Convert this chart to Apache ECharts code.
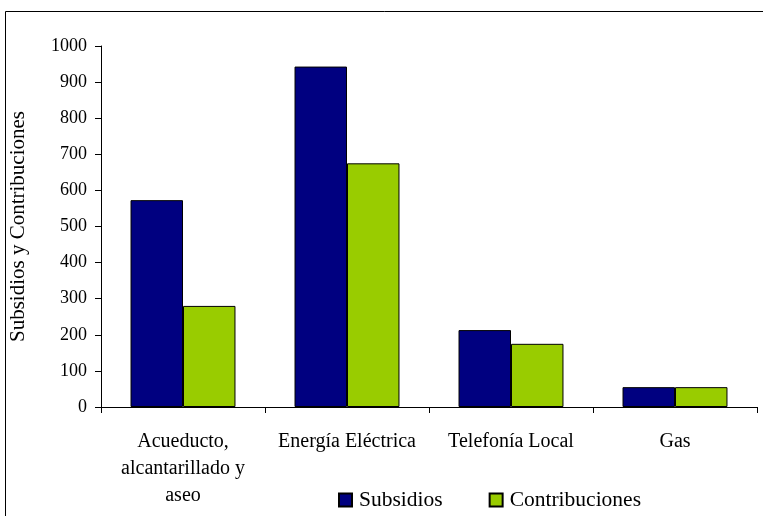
<!DOCTYPE html>
<html>
<head>
<meta charset="utf-8">
<script src="https://cdn.jsdelivr.net/npm/echarts@6/dist/echarts.min.js"></script>
<style>
html,body{margin:0;padding:0;background:#fff;}
#chart{width:763px;height:516px;}
</style>
</head>
<body>
<div id="chart"></div>
<script>
var categories = ['Acueducto,\nalcantarillado y\naseo', 'Energía Eléctrica', 'Telefonía Local', 'Gas'];
var subsidios = [573, 943, 213, 55];
var contribuciones = [280, 675, 175, 55];
var yTicks = [0, 100, 200, 300, 400, 500, 600, 700, 800, 900, 1000];

var FONT = '"Liberation Serif", "Times New Roman", serif';
var chart = echarts.init(document.getElementById('chart'));
chart.setOption({
  backgroundColor: '#fff',
  animation: false,
  graphic: [{
    type: 'rect',
    shape: {x: 5.5, y: 11.5, width: 800, height: 600},
    style: {fill: 'none', stroke: '#000', lineWidth: 1},
    silent: true, z: -1
  }],
  grid: {left: 99, right: 6, top: 46, bottom: 109, containLabel: false},
  legend: {
    data: ['Subsidios', 'Contribuciones'],
    left: 333, top: 484,
    icon: 'rect', itemWidth: 13, itemHeight: 13, itemGap: 46,
    textStyle: {fontFamily: FONT, fontSize: 21.5, color: '#000', padding: [0, 0, 0, 2]}
  },
  xAxis: {
    type: 'category',
    data: categories,
    axisLine: {lineStyle: {color: '#000', width: 1}},
    axisTick: {show: true, length: 6, lineStyle: {color: '#000'}},
    axisLabel: {fontFamily: FONT, fontSize: 20, color: '#000', lineHeight: 27, margin: 21, interval: 0}
  },
  yAxis: {
    type: 'value',
    min: yTicks[0], max: yTicks[yTicks.length - 1], interval: 100,
    name: 'Subsidios y Contribuciones',
    nameLocation: 'middle', nameGap: 72, nameRotate: 90,
    nameTextStyle: {fontFamily: FONT, fontSize: 21, color: '#000'},
    axisLine: {show: true, lineStyle: {color: '#000', width: 1}},
    axisTick: {show: true, length: 6, lineStyle: {color: '#000'}},
    splitLine: {show: false},
    axisLabel: {fontFamily: FONT, fontSize: 18, color: '#000', margin: 14,
      formatter: function (v) { return String(v); }}
  },
  series: [{
    name: 'Subsidios', type: 'bar', data: subsidios,
    barGap: '0%', barCategoryGap: '36%',
    itemStyle: {color: '#000080', borderColor: '#000', borderWidth: 1}
  }, {
    name: 'Contribuciones', type: 'bar', data: contribuciones,
    barGap: '0%', barCategoryGap: '36%',
    itemStyle: {color: '#99CC00', borderColor: '#000', borderWidth: 1}
  }]
});
</script>
</body>
</html>
